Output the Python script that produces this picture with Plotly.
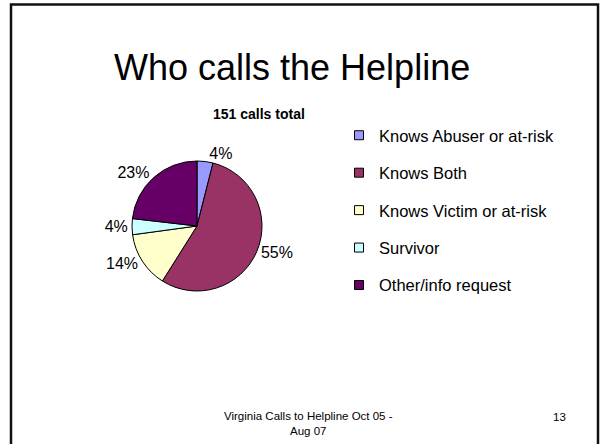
import plotly.graph_objects as go

# Data
categories = ["Knows Abuser or at-risk", "Knows Both", "Knows Victim or at-risk", "Survivor", "Other/info request"]
calls = [6, 83, 21, 6, 35]
colors = ["#9999FF", "#993366", "#FFFFCC", "#CCFFFF", "#660066"]

title_text = "Who calls the Helpline"
subtitle_text = "151 calls total"
footer_text = "Virginia Calls to Helpline Oct 05 -<br>Aug 07"
page_no = "13"

W, H = 600, 444
FONT = "Liberation Sans, Arial, sans-serif"

def px(x):
    return x / W

def py(y):
    return 1 - y / H

fig = go.Figure()

fig.add_trace(go.Pie(
    labels=categories,
    values=calls,
    sort=False,
    direction="clockwise",
    rotation=0,
    marker=dict(colors=colors, line=dict(color="black", width=1)),
    texttemplate="%{percent:.0%}",
    textposition="outside",
    textfont=dict(family=FONT, size=16, color="black"),
    showlegend=False,
    hoverinfo="label+value+percent",
    domain=dict(x=[px(132), px(262)], y=[py(291), py(161)]),
))

# legend entries
for cat, col in zip(categories, colors):
    fig.add_trace(go.Scatter(
        x=[None], y=[None], mode="markers", name=cat,
        legendgroup=cat,
        marker=dict(symbol="square", size=9, color=col, line=dict(color="black", width=1)),
        showlegend=True,
    ))

fig.update_layout(
    width=W, height=H,
    autosize=False,
    margin=dict(l=0, r=0, t=0, b=0),
    paper_bgcolor="white",
    plot_bgcolor="white",
    xaxis=dict(visible=False),
    yaxis=dict(visible=False),
    font=dict(family=FONT, color="black"),
    legend=dict(
        x=px(339), y=py(118), xanchor="left", yanchor="top",
        font=dict(family=FONT, size=16.5, color="black"),
        traceorder="grouped",
        tracegroupgap=13,
        bgcolor="rgba(0,0,0,0)",
        itemclick=False, itemdoubleclick=False,
    ),
    shapes=[
        dict(type="rect", xref="paper", yref="paper",
             x0=px(11), x1=px(598), y0=py(470), y1=py(4.5),
             line=dict(color="#111111", width=2.5), fillcolor="rgba(0,0,0,0)", layer="above"),
    ],
    annotations=[
        dict(text=title_text, x=px(292), y=py(67), xref="paper", yref="paper",
             showarrow=False, font=dict(family=FONT, size=36, color="black"),
             xanchor="center", yanchor="middle"),
        dict(text="<b>" + subtitle_text + "</b>", x=px(259), y=py(114), xref="paper", yref="paper",
             showarrow=False, font=dict(family=FONT, size=14, color="black"),
             xanchor="center", yanchor="middle"),
        dict(text=footer_text, x=px(308), y=py(423), xref="paper", yref="paper",
             showarrow=False, font=dict(family=FONT, size=11.5, color="black"),
             xanchor="center", yanchor="middle", align="center"),
        dict(text=page_no, x=px(559), y=py(417), xref="paper", yref="paper",
             showarrow=False, font=dict(family=FONT, size=11.5, color="black"),
             xanchor="center", yanchor="middle"),
    ],
)

fig.write_html("out.html")
